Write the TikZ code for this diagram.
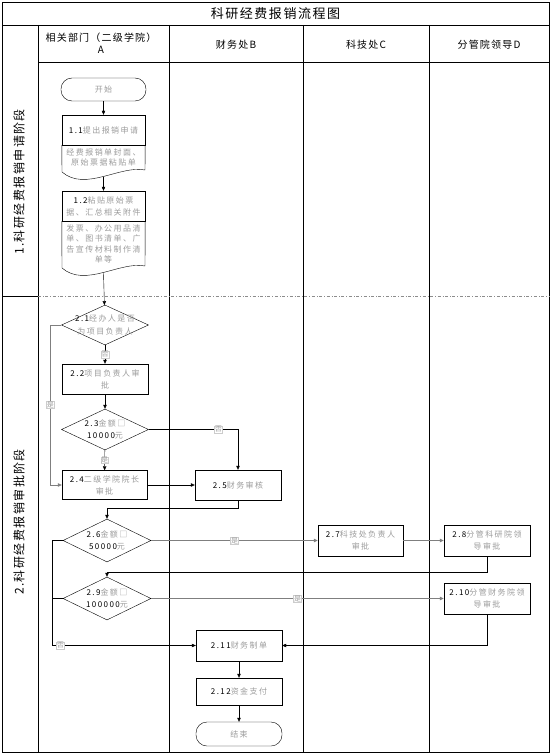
\documentclass[tikz,border=0pt]{standalone}
\usepackage{fontspec}
\setmainfont{Noto Sans CJK SC}
\newfontfamily\boxfont[LetterSpace=18]{Noto Sans CJK SC}
\newfontfamily\headfont[LetterSpace=12]{Noto Sans CJK SC}
\usepackage{xcolor}
\usetikzlibrary{arrows.meta,positioning,shapes.geometric}
\definecolor{linegrey}{HTML}{7F7F7F}
\definecolor{textgrey}{HTML}{9C9C9C}
\definecolor{dashgrey}{HTML}{8C8C8C}
\newcommand{\stepno}[1]{\textcolor{black}{#1}}

\begin{document}
\begin{tikzpicture}[
  x=1pt,y=-1pt,
  proc/.style={draw,fill=white,minimum width=86pt,minimum height=30pt,align=center,
               font=\boxfont\fontsize{8}{12}\selectfont,text=textgrey,inner sep=1pt},
  term/.style={proc,rounded corners=11pt,minimum height=24pt},
  dec/.style={draw,diamond,minimum width=88pt,minimum height=42pt,inner sep=0pt},
  dectext/.style={font=\boxfont\fontsize{8}{12.5}\selectfont,text=textgrey,align=center},
  doctext/.style={font=\boxfont\fontsize{8}{10.5}\selectfont,text=textgrey,align=center},
  arrow/.style={-{Triangle[length=4pt,width=3.5pt]},draw=black},
  garrow/.style={arrow,draw=linegrey,thick},
  yesno/.style={fill=white,draw=linegrey!40,inner sep=0.4pt,
                font=\fontsize{7}{7}\selectfont,text=textgrey},
  lanehead/.style={font=\headfont\fontsize{10}{12}\selectfont,align=center},
  stagehead/.style={font=\headfont\fontsize{12}{13}\selectfont,rotate=90},
]
\useasboundingbox (0,0) rectangle (551,754);

% frame and lanes
\draw[thick] (2,2) rectangle (549,752);
\draw[thick] (2,25) -- (549,25);
\draw[thick] (38,62) -- (549,62);
\foreach \lx in {38,169,303,429}
  \draw[thick] (\lx,25) -- (\lx,752);
\draw[thick] (2,296) -- (38,296);
\draw[dashgrey,dash dot] (38,296) -- (549,296);

\node[font=\headfont\fontsize{13}{14}\selectfont] (title) at (275.5,13.5) {科研经费报销流程图};
\node[lanehead] (laneA) at (101,43) {相关部门（二级学院）\\A};
\node[lanehead] (laneB) at (236,45) {财务处B};
\node[lanehead] (laneC) at (366,45) {科技处C};
\node[lanehead] (laneD) at (489,45) {分管院领导D};
\node[stagehead] (stage1) at (19,182) {1.科研经费报销申请阶段};
\node[stagehead] (stage2) at (19,522) {2.科研经费报销审批阶段};

% stage 1
\node[term,minimum width=85pt,minimum height=23pt] (start) at (103.5,89.5) {开始};
\node[proc,minimum width=83pt] (n11) at (103.5,130) {\stepno{1.1}提出报销申请};
\draw (n11.south west) -- (62,172) .. controls (85,192) and (120,165) .. (145,170) -- (n11.south east);
\node[doctext] (d11) at (103.5,157.5) {经费报销单封面、\\原始票据粘贴单};
\coordinate (w11) at (103.5,177);

\node[proc,minimum width=83pt] (n12) at (103.5,206) {\stepno{1.2}粘贴原始票\\据、汇总相关附件};
\draw (n12.south west) -- (62,268) .. controls (85,288) and (120,261) .. (145,266) -- (n12.south east);
\node[doctext] (d12) at (103.5,244) {发票、办公用品清\\单、图书清单、广\\告宣传材料制作清\\单等};
\coordinate (w12) at (103.5,273);

\draw[arrow] (start) -- (n11);
\draw[arrow] (w11) -- (n12);

% stage 2
\node[dec,minimum width=87pt,minimum height=40pt] (n21) at (105,325) {};
\node[dectext] (t21) at (n21) {\stepno{2.1}经办人是否\\为项目负责人};
\node[proc] (n22) at (105,379) {\stepno{2.2}项目负责人审\\批};
\node[dec,minimum width=87pt,minimum height=41pt] (n23) at (105,429.5) {};
\node[dectext] (t23) at (n23) {\stepno{2.3}金额□\\\stepno{10000}元};
\node[proc,minimum width=85pt,minimum height=29pt] (n24) at (104.5,485) {\stepno{2.4}二级学院院长\\审批};
\node[proc] (n25) at (238,485) {\stepno{2.5}财务审核};
\node[dec,minimum height=43pt] (n26) at (107,540.5) {};
\node[dectext] (t26) at (n26) {\stepno{2.6}金额□\\\stepno{50000}元};
\node[proc,minimum width=85pt,minimum height=31pt] (n27) at (360.5,540.5) {\stepno{2.7}科技处负责人\\审批};
\node[proc,minimum height=31pt] (n28) at (487,540.5) {\stepno{2.8}分管科研院领\\导审批};
\node[dec,minimum height=43pt] (n29) at (107,598.5) {};
\node[dectext] (t29) at (n29) {\stepno{2.9}金额□\\\stepno{100000}元};
\node[proc,minimum height=31pt] (n210) at (487,598.5) {\stepno{2.10}分管财务院领\\导审批};
\node[proc,minimum height=31pt] (n211) at (239,645.5) {\stepno{2.11}财务制单};
\node[proc,minimum height=27pt] (n212) at (239,691.5) {\stepno{2.12}资金支付};
\node[term] (end) at (239,734) {结束};

\draw[arrow] (w12) -- (n21);
\draw[arrow] (n21) -- node[yesno]{否} (n22);
\draw[arrow] (n22) -- (n23);
\draw[arrow] (n23) -- node[yesno]{是} (n24);
\draw[arrow] (n23.east) -- node[yesno,pos=0.78]{否} (n25.north |- n23.east) -- (n25.north);
\draw[garrow,thin] (n21.west) -- ++(-11,0) |- node[yesno,pos=0.25]{是} (n24.west);
\draw[arrow] (n24) -- (n25);
\draw[arrow] (n25.south) -- ++(0,8) -| (n26.north);
\draw[garrow] (n26) -- node[yesno]{是} (n27);
\draw[garrow] (n27) -- (n28);
\draw[arrow] (n28.south) -- ++(0,16) -| (n29.north);
\draw[garrow] (n29) -- node[yesno]{是} (n210);
\draw[arrow] (n26.west) -- ++(-11,0) |- node[yesno,pos=0.53]{否} (n211.west);
\draw (n29.west) -- ++(-11,0);
\draw[arrow] (n210.south) |- (n211.east);
\draw[arrow] (n211) -- (n212);
\draw[arrow] (n212) -- (end);
\end{tikzpicture}
\end{document}
